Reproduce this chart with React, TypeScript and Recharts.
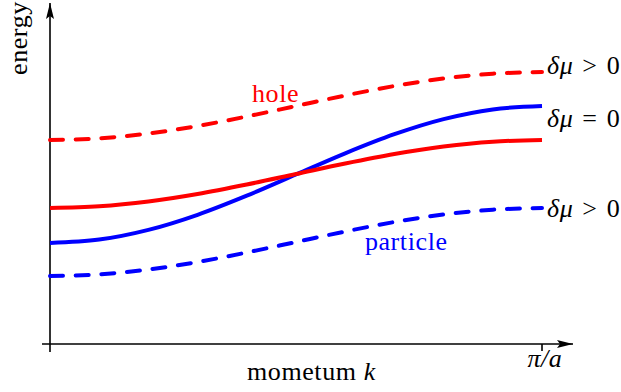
import React from 'react';
import { LineChart, Line, XAxis, YAxis, ReferenceLine, ReferenceDot } from 'recharts';

// momentum in units of pi/a, energies in arbitrary units
const momentum = [0, 0.1, 0.2, 0.3, 0.4, 0.5, 0.6, 0.7, 0.8, 0.9, 1];
const holeShifted = [2.04, 2.057, 2.105, 2.18, 2.275, 2.38, 2.485, 2.58, 2.655, 2.703, 2.72];
const holeZero = [1.36, 1.377, 1.425, 1.5, 1.595, 1.7, 1.805, 1.9, 1.975, 2.023, 2.04];
const particleZero = [1.01, 1.044, 1.141, 1.292, 1.483, 1.695, 1.907, 2.098, 2.249, 2.346, 2.38];
const particleShifted = [0.68, 0.697, 0.745, 0.82, 0.915, 1.02, 1.125, 1.22, 1.295, 1.343, 1.36];

const data = momentum.map((k, i) => ({
  k,
  holeShifted: holeShifted[i],
  holeZero: holeZero[i],
  particleZero: particleZero[i],
  particleShifted: particleShifted[i],
}));

const FONT = "'Liberation Serif', 'DejaVu Serif', 'Times New Roman', serif";
const X_DOMAIN: [number, number] = [-0.01626, 1.063];
const Y_DOMAIN: [number, number] = [-0.08, 3.41];

const textShape = (content: React.ReactNode, opts: { anchor?: string; fill?: string; rotate?: boolean } = {}) =>
  (p: any) => (
    <text
      x={p.cx}
      y={p.cy}
      textAnchor={opts.anchor || 'start'}
      fill={opts.fill || '#000'}
      style={{ fontFamily: FONT, fontSize: 26, letterSpacing: 0.6 }}
      transform={opts.rotate ? `rotate(-90 ${p.cx} ${p.cy})` : undefined}
    >
      {content}
    </text>
  );

const deltaMu = (rel: string) => (
  <>
    <tspan fontStyle="italic">δμ</tspan>
    <tspan dx={9}>{rel}</tspan>
    <tspan dx={9}>0</tspan>
  </>
);

const App: React.FC = () => {
  return (
    <div style={{ position: 'absolute', left: 0, top: 0, background: '#fff', fontFamily: FONT }}>
      <LineChart width={621} height={392} data={data} margin={{ top: 3, right: 48, bottom: 40, left: 42 }}>
        <defs>
          <marker id="arrowHead" markerWidth="16" markerHeight="8" refX="16" refY="4" orient="auto" markerUnits="userSpaceOnUse">
            <path d="M0,0 L16,4 L0,8 L3,4 Z" fill="#000" />
          </marker>
        </defs>
        <XAxis dataKey="k" type="number" domain={X_DOMAIN} hide allowDataOverflow />
        <YAxis type="number" domain={Y_DOMAIN} hide allowDataOverflow />

        {/* axes with arrows */}
        <ReferenceLine
          segment={[{ x: X_DOMAIN[0], y: 0 }, { x: X_DOMAIN[1], y: 0 }]}
          stroke="#000"
          strokeWidth={1.6}
          markerEnd="url(#arrowHead)"
          ifOverflow="visible"
        />
        <ReferenceLine
          segment={[{ x: 0, y: Y_DOMAIN[0] }, { x: 0, y: Y_DOMAIN[1] }]}
          stroke="#000"
          strokeWidth={1.6}
          markerEnd="url(#arrowHead)"
          ifOverflow="visible"
        />
        <ReferenceLine segment={[{ x: 1, y: 0 }, { x: 1, y: -0.07 }]} stroke="#000" strokeWidth={1.6} ifOverflow="visible" />

        <Line dataKey="holeShifted" type="monotone" stroke="#ff0000" strokeWidth={4} strokeDasharray="13 12.7" strokeLinecap="round" dot={false} isAnimationActive={false} />
        <Line dataKey="particleShifted" type="monotone" stroke="#0000ff" strokeWidth={4} strokeDasharray="13 12.7" strokeLinecap="round" dot={false} isAnimationActive={false} />
        <Line dataKey="particleZero" type="monotone" stroke="#0000ff" strokeWidth={4} dot={false} isAnimationActive={false} />
        <Line dataKey="holeZero" type="monotone" stroke="#ff0000" strokeWidth={4} dot={false} isAnimationActive={false} />

        {/* annotations */}
        <ReferenceDot x={0.4106} y={2.42} r={0} ifOverflow="visible" shape={textShape('hole', { fill: '#ff0000' })} />
        <ReferenceDot x={0.64} y={0.94} r={0} ifOverflow="visible" shape={textShape('particle', { fill: '#0000ff' })} />
        <ReferenceDot x={1.0102} y={2.7} r={0} ifOverflow="visible" shape={textShape(deltaMu('>'))} />
        <ReferenceDot x={1.0102} y={2.17} r={0} ifOverflow="visible" shape={textShape(deltaMu('='))} />
        <ReferenceDot x={1.0102} y={1.27} r={0} ifOverflow="visible" shape={textShape(deltaMu('>'))} />
        <ReferenceDot
          x={1.006}
          y={-0.23}
          r={0}
          ifOverflow="visible"
          shape={textShape(<tspan fontStyle="italic">π/a</tspan>, { anchor: 'middle' })}
        />
        <ReferenceDot
          x={0.4004}
          y={-0.36}
          r={0}
          ifOverflow="visible"
          shape={textShape(<>mometum <tspan fontStyle="italic">k</tspan></>)}
        />
        <ReferenceDot x={-0.0467} y={2.69} r={0} ifOverflow="visible" shape={textShape('energy', { rotate: true })} />
      </LineChart>
    </div>
  );
};

export default App;
